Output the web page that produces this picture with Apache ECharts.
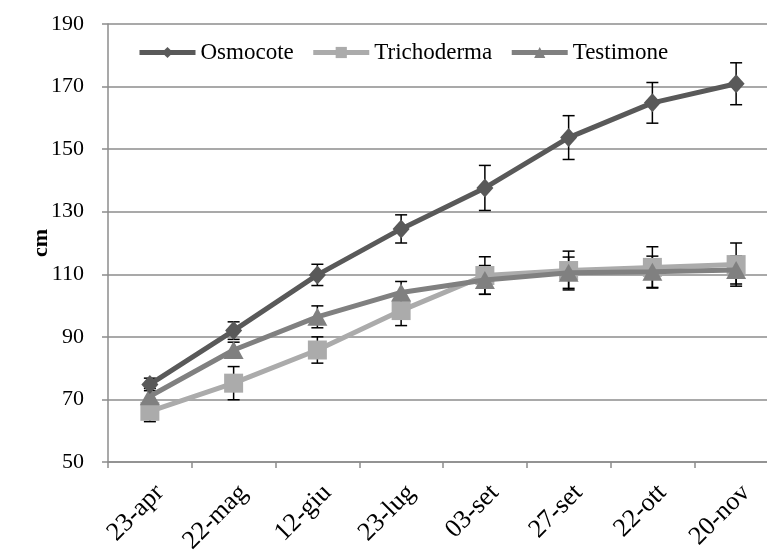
<!DOCTYPE html>
<html>
<head>
<meta charset="utf-8">
<script src="https://cdn.jsdelivr.net/npm/echarts@6/dist/echarts.min.js"></script>
<style>html,body{margin:0;padding:0;background:#fff}#c{width:767px;height:550px}</style>
</head>
<body>
<div id="c"></div>
<script>
var categories = ['23-apr','22-mag','12-giu','23-lug','03-set','27-set','22-ott','20-nov'];
var osmocote = [74.8, 92, 109.8, 124.5, 137.6, 153.7, 164.8, 170.9];
var osmocoteErr = [2, 2.8, 3.4, 4.5, 7.2, 7, 6.5, 6.7];
var trichoderma = [66.2, 75.2, 85.8, 98.4, 109.6, 111.2, 112.2, 113.1];
var trichodermaErr = [3.3, 5.3, 4.2, 4.8, 6, 6.2, 6.6, 6.9];
var testimone = [71, 85.8, 96.4, 104.2, 108.2, 110.5, 110.8, 111.4];
var testimoneErr = [2.5, 2.5, 3.5, 3.5, 4.6, 5, 5, 4.5];
var yTicks = [50, 70, 90, 110, 130, 150, 170, 190];

var FONT = 'Liberation Serif';
var chart = echarts.init(document.getElementById('c'));

function errData(vals, errs) {
  return vals.map(function (v, i) { return [i, v - errs[i], v + errs[i]]; });
}
function errSeries(name, vals, errs) {
  return {
    type: 'custom',
    name: name + ' err',
    z: 1,
    silent: true,
    data: errData(vals, errs),
    renderItem: function (params, api) {
      var x = api.value(0);
      var lo = api.coord([x, api.value(1)]);
      var hi = api.coord([x, api.value(2)]);
      var hw = 6;
      var st = { stroke: '#000', lineWidth: 1.5 };
      return {
        type: 'group',
        children: [
          { type: 'line', shape: { x1: lo[0], y1: lo[1], x2: hi[0], y2: hi[1] }, style: st },
          { type: 'line', shape: { x1: lo[0] - hw, y1: lo[1], x2: lo[0] + hw, y2: lo[1] }, style: st },
          { type: 'line', shape: { x1: hi[0] - hw, y1: hi[1], x2: hi[0] + hw, y2: hi[1] }, style: st }
        ]
      };
    }
  };
}
function lineSeries(name, vals, color, symbol, size, z) {
  return {
    type: 'line', name: name, data: vals, z: z,
    symbol: symbol, symbolSize: size, showAllSymbol: true,
    lineStyle: { color: color, width: 5 },
    itemStyle: { color: color, borderWidth: 0 },
    emphasis: { disabled: true }
  };
}

chart.setOption({
  animation: false,
  backgroundColor: '#fff',
  grid: { left: 108, top: 24, right: -11, bottom: 88, outerBoundsMode: 'none', containLabel: false },
  legend: {
    left: 132, top: 36, itemWidth: 56, itemHeight: 14, itemGap: 17,
    lineStyle: { width: 5 },
    textStyle: { fontFamily: FONT, fontSize: 23, color: '#000' },
    data: ['Osmocote', 'Trichoderma', 'Testimone']
  },
  xAxis: {
    type: 'category', data: categories, boundaryGap: true,
    axisLine: { lineStyle: { color: '#8c8c8c', width: 1.5 } },
    axisTick: { show: true, length: 6, lineStyle: { color: '#8c8c8c', width: 1.5 } },
    axisLabel: { rotate: 45, margin: 17, verticalAlign: 'top', padding: [1, 0, 0, 0],
      fontFamily: FONT, fontSize: 26, color: '#000', interval: 0 },
    splitLine: { show: false }
  },
  yAxis: {
    type: 'value', min: 50, max: 190, interval: 20,
    name: 'cm', nameLocation: 'middle', nameGap: 56, nameRotate: 90, nameMoveOverlap: false,
    nameTextStyle: { fontFamily: FONT, fontSize: 22, fontWeight: 'bold', color: '#000' },
    axisLine: { show: true, lineStyle: { color: '#8c8c8c', width: 1.5 } },
    axisTick: { show: true, length: 6, lineStyle: { color: '#8c8c8c', width: 1.5 } },
    axisLabel: { margin: 24, fontFamily: FONT, fontSize: 22, color: '#000',
      formatter: function (v) { return yTicks.indexOf(v) >= 0 ? String(v) : ''; } },
    splitLine: { lineStyle: { color: '#8c8c8c', width: 1.5 } }
  },
  series: [
    errSeries('Osmocote', osmocote, osmocoteErr),
    errSeries('Trichoderma', trichoderma, trichodermaErr),
    errSeries('Testimone', testimone, testimoneErr),
    lineSeries('Trichoderma', trichoderma, '#ababab', 'rect', 19, 3),
    lineSeries('Testimone', testimone, '#808080', 'triangle', [20, 18], 4),
    lineSeries('Osmocote', osmocote, '#595959', 'diamond', [17, 19], 5)
  ]
});
</script>
</body>
</html>
